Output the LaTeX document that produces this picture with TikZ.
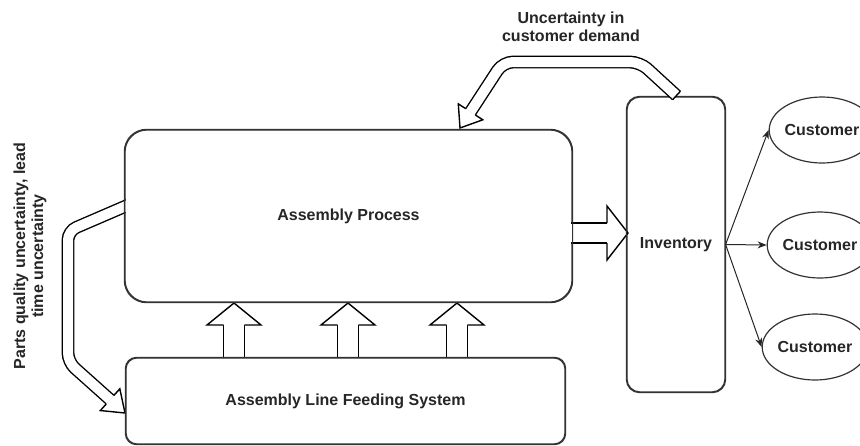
\documentclass[tikz,border=0pt]{standalone}
\usepackage{fontspec}
\setmainfont{Liberation Sans}
\usetikzlibrary{calc,shapes.geometric,arrows.meta}
\tikzset{
  rbox/.style={draw=black!80, line width=1.2pt, rounded corners=#1, inner sep=0pt},
  lbl/.style={font=\bfseries\fontsize{16}{18}\selectfont, text=black!85},
  shaft/.style={draw=black, line width=1.4pt, double=white, double distance=#1},
  blk/.style={draw=black, line width=1.4pt, line join=miter},
  cust/.style={ellipse, draw=black!80, line width=1.2pt, minimum height=66pt,
    inner sep=0pt, font=\bfseries\fontsize{16}{18}\selectfont, text=black!85},
  conn/.style={draw=black!85, line width=1pt, -{Stealth[length=9pt,width=7pt]}},
}
% #1 head base, #2 tip, #3 half shaft, #4 half head
\newcommand\blockhead[4]{%
  \fill[white] ($(#1)!#4!90:(#2)$) -- (#2) -- ($(#1)!#4!-90:(#2)$) -- cycle;
  \draw[blk] ($(#1)!#3!90:(#2)$) -- ($(#1)!#4!90:(#2)$) -- (#2)
     -- ($(#1)!#4!-90:(#2)$) -- ($(#1)!#3!-90:(#2)$);
}
\begin{document}
\begin{tikzpicture}[x=1pt,y=-1pt]
\useasboundingbox (0,0) rectangle (860,445);
\clip (0,0) rectangle (860,445);

% box nodes (positions)
\path (348.5,216) node[rbox=22pt, minimum width=447pt, minimum height=172pt] (ap) {};
\path (345.5,401) node[rbox=11pt, minimum width=439pt, minimum height=86pt] (feed) {};
\path (676,244.5) node[rbox=13pt, minimum width=98pt, minimum height=295pt] (inv) {};

% up block arrows feed -> ap
\foreach \cx/\nm in {234/u1, 348/u2, 457/u3}{
  \coordinate (\nm s) at (\cx,358);
  \coordinate (\nm t) at (\cx,303);
  \coordinate (\nm b) at ($(\nm t)+(0,22)$);
  \draw[shaft=19.4pt] (\nm s) -- (\nm b);
  \blockhead{\nm b}{\nm t}{10.4pt}{27pt}
}

% right block arrow ap -> inv
\coordinate (rs) at (571,233);
\coordinate (rt) at (628,233);
\coordinate (rb) at (607,233);
\draw[shaft=18.6pt] (rs) -- (rb);
\blockhead{rb}{rt}{10pt}{27pt}

% left bent block arrow ap -> feed
\begin{scope}
  \clip (0,0) rectangle (125.6,445);
  \coordinate (ls) at (133.4,202.8);
  \coordinate (lw1) at (68,231);
  \coordinate (lw2) at (68,362);
  \coordinate (lt) at (125,413);
  \coordinate (lb) at ($(lt)!20pt!(lw2)$);
  \draw[shaft=10pt, rounded corners=9pt] (ls) -- (lw1) -- (lw2) -- (lb);
  \blockhead{lb}{lt}{5.7pt}{14.6pt}
\end{scope}

% redraw box outlines on top
\draw[rbox=22pt] (ap.south west) rectangle (ap.north east);
\draw[rbox=11pt] (feed.south west) rectangle (feed.north east);
\draw[rbox=13pt] (inv.south west) rectangle (inv.north east);

% top bent block arrow inv -> ap
\coordinate (ts) at (676.5,95.5);
\coordinate (tw1) at (640,62);
\coordinate (tw2) at (503,62);
\coordinate (tt) at (460,128);
\coordinate (tb) at ($(tt)!19.3pt!(tw2)$);
\draw[shaft=10pt, rounded corners=10pt] (ts) -- (tw1) -- (tw2) -- (tb);
\draw[blk] ($(ts)!5.7pt!90:(tw1)$) -- ($(ts)!5.7pt!-90:(tw1)$);
\blockhead{tb}{tt}{5.7pt}{14.6pt}

% labels
\node[lbl] at (ap.center) {Assembly Process};
\node[lbl] at (feed.center) {Assembly Line Feeding System};
\node[lbl] at (inv.center) {Inventory};
\node[lbl, align=center] (tlab) at (571,27) {Uncertainty in\\customer demand};
\node[lbl, align=center, rotate=90] (llab) at (30,256) {Parts quality uncertainty, lead\\time uncertainty};

% customers
\node[cust, minimum width=100pt] (c1) at (822,130) {Customer};
\node[cust, minimum width=100pt] (c2) at (820,245) {Customer};
\node[cust, minimum width=102pt] (c3) at (815,347) {Customer};

\draw[conn] (inv.east) -- (c1.west);
\draw[conn] (inv.east) -- (c2.west);
\draw[conn] (inv.east) -- (c3.west);
\end{tikzpicture}
\end{document}
